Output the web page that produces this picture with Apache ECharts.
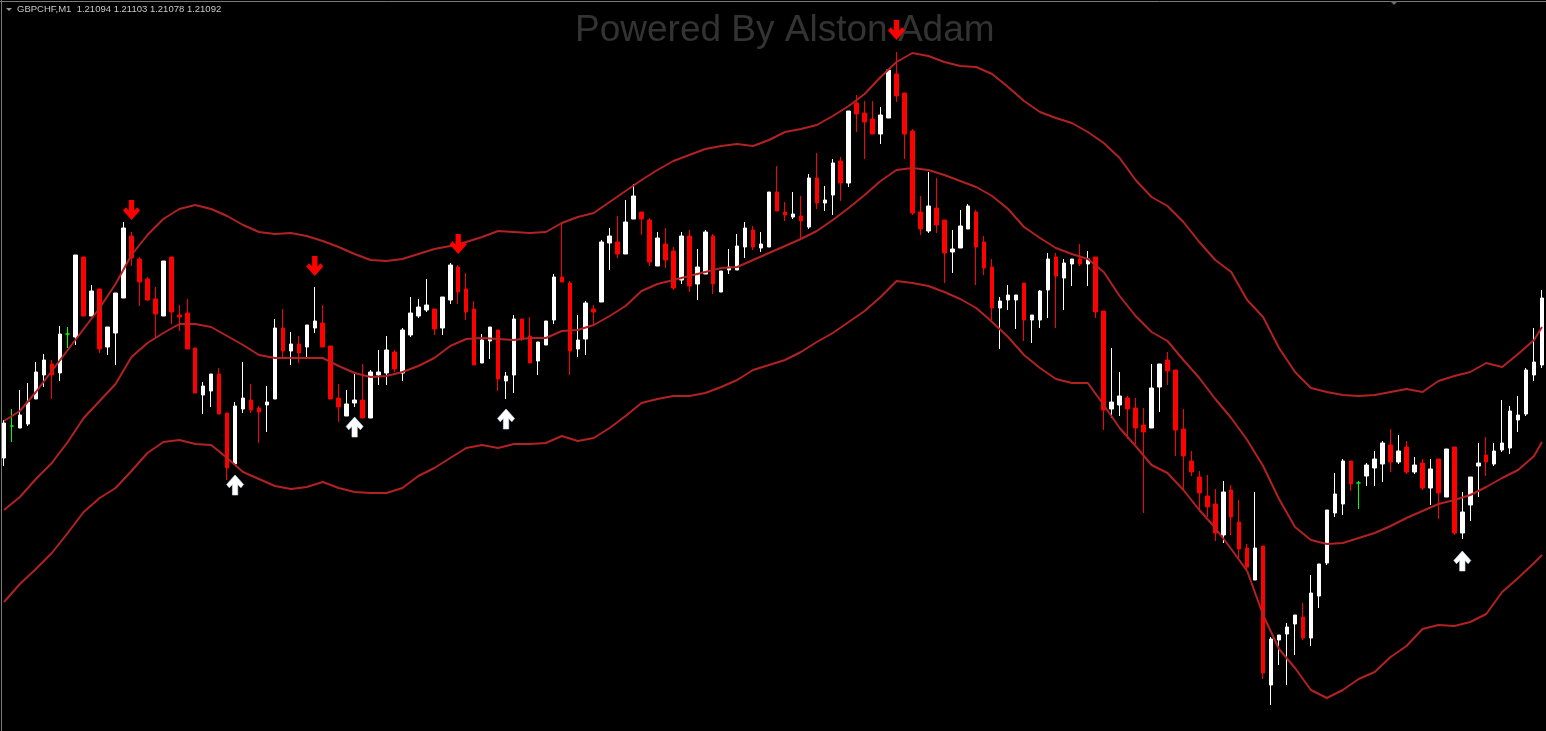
<!DOCTYPE html>
<html><head><meta charset="utf-8">
<script src="https://cdn.jsdelivr.net/npm/echarts/dist/echarts.min.js"></script>
<style>html,body{margin:0;padding:0;background:#000;overflow:hidden}#c{width:1546px;height:731px}</style>
</head><body><div id="c"></div>
<script>
// Prices in points (1 point = 0.00001) above 1.20000
const open = [273,305,303,307,332,356,367,358,397,394,474,415,442,384,398,433,495,472,452,432,415,474,416,418,383,336,340,357,318,267,322,331,323,326,332,403,380,387,384,403,408,385,333,315,328,331,313,356,358,379,358,396,415,421,422,403,431,464,442,422,368,390,401,350,356,412,395,370,386,411,454,448,382,392,422,429,488,489,477,512,519,511,465,487,480,451,495,447,457,495,439,461,461,484,501,483,484,539,519,514,515,504,553,528,536,570,548,628,618,612,597,613,657,638,600,519,500,523,511,479,483,502,519,489,464,423,431,431,448,411,411,441,474,453,467,472,467,474,420,322,326,333,323,306,303,344,371,361,302,270,254,235,227,196,241,209,183,151,185,46,91,97,107,114,93,135,168,218,227,270,248,255,263,267,286,269,284,259,268,243,272,234,284,198,226,265,276,267,281,283,311,317,356,366];
const close = [308,305,316,329,359,371,356,397,397,476,415,440,382,404,438,503,473,449,431,417,470,419,414,382,338,345,357,317,263,325,333,321,319,329,403,380,387,378,406,410,384,332,324,327,331,313,359,359,381,362,401,418,424,426,402,434,466,439,419,366,391,404,352,355,412,392,368,389,410,454,449,380,391,428,419,489,495,477,509,535,512,469,493,471,443,495,445,464,499,447,460,464,485,503,484,487,539,520,516,517,510,553,528,531,568,548,620,617,609,597,616,661,635,597,518,502,525,506,478,482,505,525,484,463,423,430,436,436,411,416,440,472,455,468,472,467,472,419,321,329,335,322,303,299,343,367,360,301,275,259,238,224,198,239,214,182,164,183,58,92,96,104,116,93,138,167,221,237,270,247,248,266,272,288,269,280,259,266,243,262,238,282,198,219,254,268,269,280,288,320,316,361,369,433];
const low = [265,289,303,305,332,344,332,350,383,386,415,415,378,376,366,433,465,425,430,392,415,407,400,382,338,317,324,317,251,267,318,318,288,299,332,374,366,368,372,398,384,332,309,315,324,313,313,346,346,359,350,394,413,419,396,396,427,427,411,366,368,372,340,332,338,390,368,356,386,407,449,356,374,376,406,429,461,473,477,512,496,465,465,463,441,447,439,431,457,437,439,457,461,473,481,479,484,520,510,512,491,502,522,520,516,530,544,599,572,597,587,613,629,572,516,496,498,498,448,458,483,502,446,456,411,382,421,402,390,388,403,413,403,421,445,465,445,413,301,313,315,292,287,218,303,319,346,275,241,255,222,214,190,188,196,172,160,151,52,26,66,46,76,91,85,123,166,214,216,240,222,245,245,249,259,267,257,257,241,226,212,234,196,192,210,234,255,265,279,277,299,315,350,363];
const high = [311,322,341,348,369,377,371,405,404,476,474,446,442,404,438,509,499,474,454,444,470,474,426,432,383,349,357,363,318,329,369,347,325,345,412,422,399,395,406,444,426,385,347,341,357,367,361,381,395,381,403,434,432,452,422,434,468,466,458,430,397,404,401,359,416,412,414,389,410,457,508,450,416,430,426,491,503,515,531,547,519,513,499,503,484,499,501,482,501,497,460,482,497,509,505,499,539,565,529,539,535,557,578,545,572,574,620,636,630,630,624,661,679,638,602,535,559,553,511,501,521,527,521,495,472,434,446,436,448,416,441,478,478,472,472,487,480,474,420,383,359,335,333,323,367,367,379,361,322,280,260,256,242,250,246,231,187,239,185,94,96,108,116,128,156,167,221,258,272,270,250,268,280,290,302,296,290,274,272,272,272,282,284,239,254,288,294,288,331,325,335,363,403,441];

// Bollinger band readings at these bar indices
const bandIdx = [0,2,4,6,8,10,12,14,16,18,20,22,24,26,28,30,32,34,36,38,40,42,44,46,48,50,52,54,56,58,60,62,64,66,68,70,72,74,76,78,80,82,84,86,88,90,92,94,96,98,100,102,104,106,108,110,112,114,116,118,120,122,124,126,128,130,132,134,136,138,140,142,144,146,148,150,152,154,156,158,160,162,164,166,168,170,172,174,176,178,180,182,184,186,188,190,192,193];
const upper = [310,320,339,360,381,402,423,447,476,496,512,522,526,522,515,506,499,497,498,495,490,484,477,471,470,472,477,482,485,489,494,500,499,498,499,508,514,518,529,540,551,561,570,576,582,585,587,585,591,599,602,606,615,625,637,654,669,678,675,669,665,664,657,644,630,619,613,608,599,588,573,551,534,525,509,489,471,459,431,414,383,359,343,339,336,335,336,339,342,339,350,355,359,368,364,377,391,404];
const middle = [221,234,252,268,289,313,330,347,374,388,398,407,407,404,395,386,376,373,373,373,373,365,358,354,355,359,365,373,385,392,393,392,391,393,393,400,401,406,415,425,440,447,451,455,459,463,464,471,478,485,492,500,511,523,536,550,561,563,561,556,550,544,535,522,504,493,483,477,472,459,435,415,399,390,371,353,332,313,291,265,232,204,191,187,188,193,198,205,213,220,227,231,236,244,253,261,275,289];
const lower = [129,147,162,178,198,219,233,243,260,278,289,291,287,286,273,259,252,245,242,244,249,243,239,238,238,243,255,263,273,283,286,283,287,287,288,295,290,293,303,315,328,332,335,335,338,344,351,361,366,371,379,389,398,409,420,434,450,448,445,439,432,423,409,394,376,363,352,348,348,326,303,285,266,258,241,221,203,182,160,116,82,63,41,33,41,52,59,74,85,102,106,105,109,117,139,153,168,176];

// Signal arrows: bar index and price level
const sellIdx = [16, 39, 57, 112];
const sellVal = [521, 465, 487, 701];
const buyIdx = [29, 44, 63, 183];
const buyVal = [246, 304, 312, 170];

const headerText = 'GBPCHF,M1  1.21094 1.21103 1.21078 1.21092';
const watermark = 'Powered By Alston Adam';

const categories = open.map((_, i) => String(i));
const ohlc = open.map((o, i) => [o, close[i], low[i], high[i]]);
const pair = (idx, vals) => idx.map((x, k) => [x, vals[k]]);

const downArrow = 'path://M5.5,0 L10.5,0 L10.5,9.5 L13.5,6.5 L16,9.5 L8,18 L0,9.5 L2.5,6.5 L5.5,9.5 Z';
const upArrow = 'path://M5.5,18 L10.5,18 L10.5,8.5 L13.5,11.5 L16,8.5 L8,0 L0,8.5 L2.5,11.5 L5.5,8.5 Z';
const bandStyle = {color: '#b22222', width: 2, opacity: 1};

const chart = echarts.init(document.getElementById('c'), null, {renderer: 'canvas'});
chart.setOption({
  backgroundColor: '#000000',
  animation: false,
  grid: {left: -1.7, top: 0, width: 1552, height: 731},
  xAxis: {type: 'category', data: categories, boundaryGap: true, show: false},
  yAxis: {type: 'value', min: 0, max: 731, show: false},
  series: [
    {type: 'candlestick', data: ohlc, barWidth: 4, silent: true, z: 2,
     itemStyle: {color: '#ffffff', color0: '#ff0000', borderColor: '#ffffff', borderColor0: '#ff0000', borderColorDoji: '#00ff00', borderWidth: 1, opacity: 1}},
    {type: 'line', data: pair(bandIdx, upper), symbol: 'none', lineStyle: bandStyle, silent: true, z: 3},
    {type: 'line', data: pair(bandIdx, middle), symbol: 'none', lineStyle: bandStyle, silent: true, z: 3},
    {type: 'line', data: pair(bandIdx, lower), symbol: 'none', lineStyle: bandStyle, silent: true, z: 3},
    {type: 'scatter', data: pair(sellIdx, sellVal), symbol: downArrow, symbolSize: [17, 20], itemStyle: {color: '#ff0000', opacity: 1}, silent: true, z: 6},
    {type: 'scatter', data: pair(buyIdx, buyVal), symbol: upArrow, symbolSize: [17, 20], itemStyle: {color: '#ffffff', opacity: 1, borderColor: '#d6e8ff', borderWidth: 0.6}, silent: true, z: 6}
  ],
  graphic: [
    {type: 'text', left: 575, top: 12, z: 1, style: {text: watermark, font: '37px "Liberation Sans", sans-serif', fill: '#333333'}},
    {type: 'line', z: 10, shape: {x1: 0, y1: 1.5, x2: 1546, y2: 1.5}, style: {stroke: '#7a7a7a', lineWidth: 1}},
    {type: 'line', z: 10, shape: {x1: 1.5, y1: 0, x2: 1.5, y2: 731}, style: {stroke: '#7a7a7a', lineWidth: 1}},
    {type: 'polygon', z: 10, shape: {points: [[6, 8], [12, 8], [9, 11]]}, style: {fill: '#9a9a9a'}},
    {type: 'polygon', z: 10, shape: {points: [[1390, 1], [1398, 1], [1394, 5]]}, style: {fill: '#6a6a6a'}},
    {type: 'text', left: 17, top: 4, z: 10, style: {text: headerText, font: '9.5px "Liberation Sans", sans-serif', fill: '#c8c8c8'}}
  ]
});
</script></body></html>
